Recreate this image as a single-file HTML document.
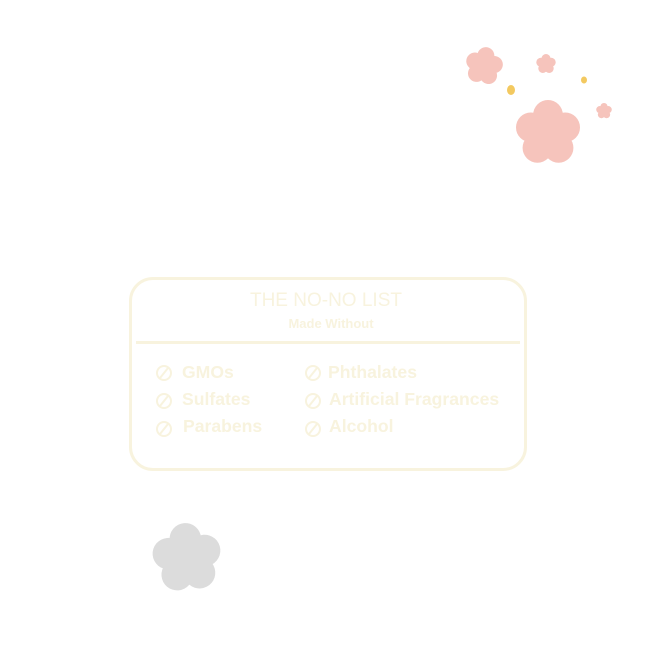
<html><head><style>
body{margin:0;width:650px;height:650px;background:#fff;position:relative;overflow:hidden;font-family:"Liberation Sans",sans-serif}
.box{position:absolute;left:129px;top:277px;width:392px;height:188px;border:3px solid #f8f3de;border-radius:24px}
.t{position:absolute;left:0;width:650px;text-align:center;color:#f8f3de}
.line{position:absolute;left:136px;top:341px;width:384px;height:3px;background:#f8f3de}
.it{position:absolute;color:#f8f3de;font-size:17.6px;font-weight:bold;white-space:nowrap}
</style></head><body>
<svg width="650" height="650" style="position:absolute;left:0;top:0">
<defs><g id="f"><circle r="0.6"/><circle cx="0" cy="-0.55" r="0.45"/><circle cx="0.52" cy="-0.17" r="0.45"/><circle cx="0.32" cy="0.45" r="0.45"/><circle cx="-0.32" cy="0.45" r="0.45"/><circle cx="-0.52" cy="-0.17" r="0.45"/></g></defs>
<g fill="#f6c4bc">
<use href="#f" transform="translate(548,133) scale(33)"/>
<use href="#f" transform="translate(484,66) scale(19) rotate(10)"/>
<use href="#f" transform="translate(546,64) scale(10)"/>
<use href="#f" transform="translate(604,111) scale(8)"/>
</g>
<use href="#f" fill="#dcdcdc" transform="translate(187,558) scale(35) rotate(-5)"/>
<ellipse cx="511" cy="90" rx="4" ry="5" fill="#f3c960"/>
<ellipse cx="584" cy="80" rx="3" ry="3.5" fill="#f3c960"/>
<g stroke="#f8f3de" stroke-width="2" fill="none">
<circle cx="164" cy="373" r="7"/><line x1="160" y1="378" x2="168" y2="368"/>
<circle cx="164" cy="401" r="7"/><line x1="160" y1="406" x2="168" y2="396"/>
<circle cx="164" cy="429" r="7"/><line x1="160" y1="434" x2="168" y2="424"/>
<circle cx="313" cy="373" r="7"/><line x1="309" y1="378" x2="317" y2="368"/>
<circle cx="313" cy="401" r="7"/><line x1="309" y1="406" x2="317" y2="396"/>
<circle cx="313" cy="429" r="7"/><line x1="309" y1="434" x2="317" y2="424"/>
</g>
</svg>
<div class="box"></div>
<div class="t" style="top:290px;font-size:19px;left:1px">THE NO-NO LIST</div>
<div class="t" style="top:316px;font-size:13px;font-weight:bold;left:6px">Made Without</div>
<div class="line"></div>
<div class="it" style="left:182px;top:362px">GMOs</div>
<div class="it" style="left:182px;top:389px">Sulfates</div>
<div class="it" style="left:183px;top:416px">Parabens</div>
<div class="it" style="left:328px;top:362px">Phthalates</div>
<div class="it" style="left:329px;top:389px">Artificial Fragrances</div>
<div class="it" style="left:329px;top:416px">Alcohol</div>
</body></html>
